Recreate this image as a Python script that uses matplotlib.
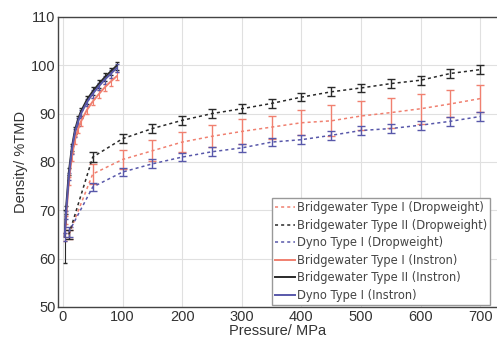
import matplotlib
matplotlib.use('Agg')
import matplotlib.pyplot as plt
from matplotlib.lines import Line2D
import numpy as np

plt.rcParams['font.family'] = ['Liberation Sans', 'DejaVu Sans']

# dropweight compaction (mean, +/- error)
p_drop = [10, 50, 100, 150, 200, 250, 300, 350, 400, 450, 500, 550, 600, 650, 700]
bw1_drop = [65.0, 77.5, 80.5, 82.3, 84.1, 85.3, 86.3, 87.2, 88.1, 88.5, 89.5, 90.2, 91.0, 92.0, 93.1]
bw1_drop_err = [1.0, 2.0, 1.9, 2.2, 2.1, 2.3, 2.5, 2.4, 2.6, 3.2, 3.0, 3.1, 3.1, 2.8, 2.8]
bw2_drop = [65.0, 81.0, 84.8, 86.9, 88.6, 90.0, 91.0, 92.1, 93.4, 94.5, 95.3, 96.2, 96.9, 98.3, 99.1]
bw2_drop_err = [1.0, 1.0, 0.9, 0.9, 0.9, 0.9, 0.9, 0.9, 0.9, 0.9, 0.9, 0.9, 0.9, 0.9, 0.9]
dy1_drop = [65.5, 74.8, 77.9, 79.6, 81.0, 82.1, 82.9, 84.1, 84.6, 85.5, 86.5, 86.9, 87.6, 88.4, 89.4]
dy1_drop_err = [1.0, 0.9, 0.9, 0.9, 0.9, 0.9, 0.9, 0.9, 0.9, 0.9, 0.9, 0.9, 0.9, 0.9, 0.9]

# instron compaction
p_inst = [3, 5, 10, 15, 20, 25, 30, 40, 50, 60, 70, 80, 90]
bw1_inst = [64.5, 68.0, 76.0, 81.0, 84.5, 86.7, 88.3, 90.7, 92.5, 94.0, 95.4, 96.6, 97.7]
bw2_inst = [64.5, 70.0, 78.0, 83.0, 86.5, 88.7, 90.4, 92.8, 94.6, 96.1, 97.5, 98.7, 99.9]
dy1_inst = [64.5, 69.0, 77.0, 82.5, 86.0, 88.2, 89.9, 92.3, 94.1, 95.6, 97.0, 98.2, 99.4]
inst_err = [5.5, 0.8, 0.8, 0.8, 0.8, 0.8, 0.8, 0.8, 0.8, 0.8, 0.8, 0.8, 0.8]

labels = ['Bridgewater Type I (Dropweight)', 'Bridgewater Type II (Dropweight)',
          'Dyno Type I (Dropweight)', 'Bridgewater Type I (Instron)',
          'Bridgewater Type II (Instron)', 'Dyno Type I (Instron)']

c_red = '#f08070'
c_blk = '#2a2a2a'
c_blu = '#5858aa'
dash = (0, (2, 2))

fig = plt.figure(figsize=(4.97, 3.38), dpi=100)
ax = fig.add_axes([0.117, 0.092, 0.883, 0.858])

for y, e, c in [(bw1_drop, bw1_drop_err, c_red), (bw2_drop, bw2_drop_err, c_blk),
                (dy1_drop, dy1_drop_err, c_blu)]:
    ax.errorbar(p_drop, y, yerr=e, color=c, ls=dash, lw=1.1,
                capsize=3, elinewidth=1.0)

for y, e, c in [(bw1_inst, [0.8] * len(p_inst), c_red), (bw2_inst, inst_err, c_blk),
                (dy1_inst, [0.8] * len(p_inst), c_blu)]:
    ax.errorbar(p_inst, y, yerr=e, color=c, lw=1.4, capsize=1.5, elinewidth=0.8)

ax.set_xlim(-8, 728)
ax.set_ylim(50, 110)
ax.set_xticks(range(0, 701, 100))
ax.set_yticks(range(50, 111, 10))
ax.grid(True, color='#e0e0e0', lw=0.8)
ax.set_axisbelow(True)
ax.tick_params(length=0, labelsize=10.5, colors='#333333', pad=2)
for s in ax.spines.values():
    s.set_color('#444444')
    s.set_linewidth(1.0)
ax.spines['right'].set_visible(False)

ax.set_xlabel('Pressure/ MPa', fontsize=10.5, color='#333333', labelpad=0)
ax.set_ylabel('Density/ %TMD', fontsize=10.5, color='#333333', labelpad=2)

# legend with plain line handles
handles = [Line2D([], [], color=c, ls=dash, lw=1.1) for c in (c_red, c_blk, c_blu)]
handles += [Line2D([], [], color=c, lw=1.4) for c in (c_red, c_blk, c_blu)]
leg = fig.legend(handles, labels, loc='lower left', bbox_to_anchor=(0.547, 0.098),
                 prop={'family': 'DejaVu Sans', 'size': 8.3}, frameon=True,
                 fancybox=False, handlelength=1.8, handletextpad=0.12,
                 labelspacing=0.4, borderpad=0.25, borderaxespad=0.0, framealpha=1)
leg.get_frame().set_edgecolor('#999999')
for t in leg.get_texts():
    t.set_color('#444444')

fig.savefig('out.png', dpi=100)
